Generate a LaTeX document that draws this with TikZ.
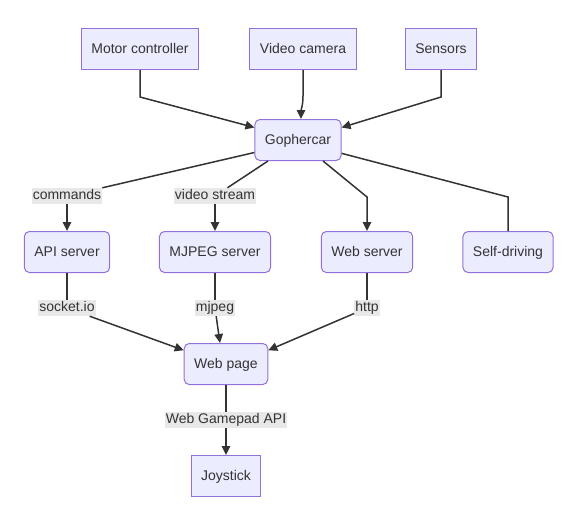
\documentclass[tikz,border=0pt]{standalone}
\usepackage{fontspec}
\setmainfont{Liberation Sans}
\usetikzlibrary{arrows.meta}
\definecolor{boxfill}{HTML}{ECECFF}
\definecolor{boxline}{HTML}{9370DB}
\definecolor{ink}{HTML}{333333}
\definecolor{lblfill}{HTML}{E8E8E8}

\begin{document}
\begin{tikzpicture}[
  x=1pt, y=-1pt,
  font=\fontsize{14}{17}\selectfont, text=ink,
  box/.style={draw=boxline, fill=boxfill, line width=1pt, minimum height=41pt, inner xsep=10pt, text height=10pt, text depth=1.5pt},
  rbox/.style={box, rounded corners=5pt},
  lbl/.style={fill=lblfill, inner xsep=1pt, inner ysep=1.5pt, text height=10pt, text depth=3pt},
  ln/.style={draw=ink, line width=1.5pt},
  ar/.style={ln, -{Triangle[length=9pt,width=8.5pt]}}
]
\useasboundingbox (0,0) rectangle (572,528);
% sources
\node[box] (mc) at (140,49) {Motor controller};
\node[box] (vc) at (303,49) {Video camera};
\node[box] (sn) at (441,49) {Sensors};
\node[rbox] (gc) at (298,140) {Gophercar};
% servers
\node[rbox] (api) at (67,252) {API server};
\node[rbox] (mjpeg) at (215,252) {MJPEG server};
\node[rbox] (web) at (367,252) {Web server};
\node[rbox] (self) at (508,252) {Self-driving};
\node[rbox] (page) at (226,364) {Web page};
\node[box] (joy) at (226,476) {Joystick};
% edge labels
\node[lbl] (lcmd) at (67,196) {commands};
\node[lbl] (lvid) at (215,196) {video stream};
\node[lbl] (lsock) at (67,308) {socket.io};
\node[lbl] (lmjpeg) at (215,308) {mjpeg};
\node[lbl] (lhttp) at (367,308) {http};
\node[lbl] (lpad) at (226,420) {Web Gamepad API};
% bends
\coordinate (mcb) at (140,97);
\coordinate (vcb) at (303,96);
\coordinate (snb) at (441,97);
\coordinate (webb) at (367,197);
\coordinate (selfb) at (508,197);

\draw[ar] (mc.south) -- (mcb) -- (gc.164);
\draw[ar] (vc.south) -- (vcb) to[out=-90, in=90] ([xshift=3pt]gc.north);
\draw[ar] (sn.south) -- (snb) -- (gc.16);

\draw[ln] (gc.196) -- (lcmd);
\draw[ar] (lcmd) -- (api);
\draw[ln] (gc.215) -- (lvid);
\draw[ar] (lvid) -- (mjpeg);
\draw[ar] (gc.320) -- (webb) -- (web.north);
\draw[ln] (gc.343) -- (selfb) -- (self.north);

\draw[ln] (api) -- (lsock);
\draw[ar] (lsock) -- (page.162);
\draw[ln] (mjpeg) -- (lmjpeg);
\draw[ar] (lmjpeg) -- (page.106);
\draw[ln] (web) -- (lhttp);
\draw[ar] (lhttp) -- (page.18);

\draw[ln] (page) -- (lpad);
\draw[ar] (lpad) -- (joy);
\end{tikzpicture}
\end{document}
